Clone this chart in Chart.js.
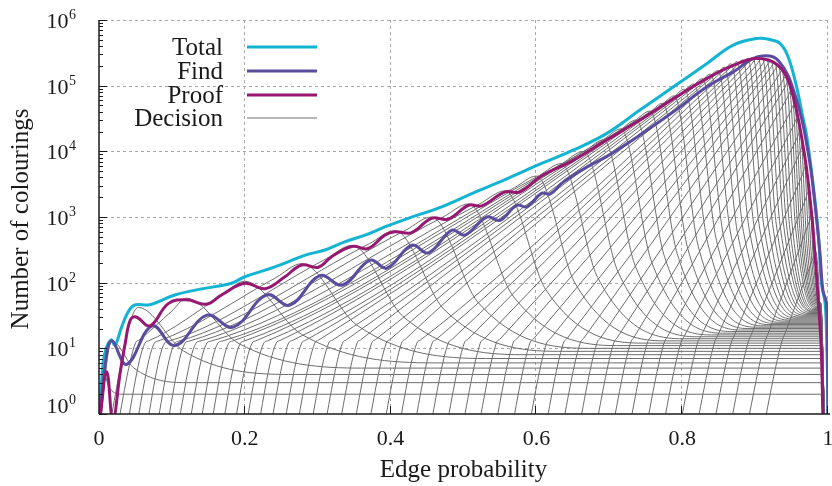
<!DOCTYPE html>
<html>
<head>
<meta charset="utf-8">
<script src="https://cdn.jsdelivr.net/npm/chart.js@4"></script>
<style>
  html, body { margin: 0; padding: 0; background: #fff; }
  #chart { display: block; }
</style>
</head>
<body>
<canvas id="chart" width="832" height="486"></canvas>
<script>
/* ============================================================
   DATA
   ============================================================ */

const xTickValues = [0, 0.2, 0.4, 0.6, 0.8, 1];
const xTickLabels = ["0", "0.2", "0.4", "0.6", "0.8", "1"];
const yTickValues = [1, 10, 100, 1000, 10000, 100000, 1000000];
const yTickExponents = ["0", "1", "2", "3", "4", "5", "6"];

const seriesNames = ["Total", "Find", "Proof", "Decision"];

const totalX = [0, 0.0037, 0.008, 0.0165, 0.022, 0.031, 0.040, 0.049, 0.067, 0.077, 0.104, 0.132, 0.159, 0.182, 0.200, 0.228, 0.255, 0.283, 0.310, 0.337, 0.365, 0.392, 0.424, 0.470, 0.516, 0.561, 0.607, 0.651, 0.696, 0.742, 0.788, 0.834, 0.870, 0.904, 0.920, 0.934, 0.945, 0.957, 0.965, 0.971, 0.980, 0.987, 0.991, 0.996, 0.998, 0.9995, 1.0];
const totalY = [0.6, 3.3, 8.5, 13.4, 11.2, 21, 36, 45.7, 45.7, 49, 65, 77, 87, 98, 123, 155, 199, 263, 314, 418, 530, 705, 955, 1430, 2400, 3880, 6530, 10500, 18600, 42500, 96000, 218000, 415000, 525000, 505000, 440000, 280000, 95000, 35000, 16600, 2900, 500, 98, 49, 15, 3, 0.5];

const findX = [0, 0.008, 0.0174, 0.038, 0.073, 0.104, 0.148, 0.184, 0.230, 0.262, 0.303, 0.334, 0.372, 0.395, 0.429, 0.452, 0.484, 0.502, 0.532, 0.550, 0.573, 0.587, 0.607, 0.619, 0.637, 0.674, 0.696, 0.742, 0.788, 0.834, 0.870, 0.904, 0.932, 0.957, 0.973, 0.982, 0.989, 0.993, 0.998, 0.9995, 1.0];
const findY = [0.6, 5, 13, 5.7, 22, 11, 32, 21, 65, 45.5, 128, 92, 220, 166, 372, 285, 630, 530, 1000, 890, 1510, 1430, 2290, 2250, 3430, 6160, 8300, 17700, 40000, 96000, 162000, 275000, 240000, 60000, 9300, 1620, 280, 77, 48, 8, 0.5];

const proofX = [0.001, 0.0106, 0.019, 0.029, 0.036, 0.043, 0.051, 0.070, 0.095, 0.120, 0.147, 0.168, 0.200, 0.228, 0.255, 0.278, 0.301, 0.319, 0.347, 0.369, 0.392, 0.406, 0.429, 0.456, 0.479, 0.507, 0.525, 0.557, 0.577, 0.607, 0.651, 0.696, 0.742, 0.788, 0.834, 0.870, 0.902, 0.930, 0.948, 0.967, 0.978, 0.982, 0.987, 0.991, 0.993];
const proofY = [0.8, 4.4, 0.8, 4.2, 12, 27, 30, 22, 48, 55, 47, 65, 98, 81, 123, 186, 172, 248, 355, 331, 530, 596, 580, 955, 930, 1510, 1480, 2410, 2400, 4200, 7360, 14800, 29900, 63500, 129000, 204000, 259000, 210000, 100000, 10000, 1000, 280, 48, 8.4, 0.8];

// Decision curves, one entry per number of colours k = 1..49
// start: where the curve leaves the bottom; knee/knee2: end of the steep rise;
// pre: just before the peak; drop: part-way down; flat: plateau reached
const decisionStartX = [-0.003, -0.002, 0.008, 0.02, 0.033, 0.046, 0.06, 0.074, 0.088, 0.103, 0.118, 0.133, 0.148, 0.164, 0.18, 0.196, 0.213, 0.23, 0.248, 0.266, 0.285, 0.304, 0.324, 0.344, 0.364, 0.385, 0.406, 0.427, 0.449, 0.471, 0.493, 0.515, 0.538, 0.561, 0.584, 0.607, 0.63, 0.653, 0.676, 0.699, 0.722, 0.745, 0.768, 0.791, 0.814, 0.837, 0.86, 0.883, 0.906];
const decisionKneeX = [null, null, null, 0.05, 0.063, 0.076, 0.09, 0.104, 0.118, 0.133, 0.148, 0.163, 0.178, 0.194, 0.21, 0.226, 0.243, 0.26, 0.278, 0.296, 0.315, 0.334, 0.354, 0.374, 0.394, 0.415, 0.436, 0.457, 0.479, 0.501, 0.523, 0.545, 0.568, 0.591, 0.614, 0.637, 0.66, 0.683, 0.706, 0.729, 0.752, 0.775, 0.798, 0.821, 0.844, 0.867, 0.89, 0.913, 0.936];
const decisionKneeY = 12;
const decisionKnee2X = [null, null, null, 0.055, 0.068, 0.081, 0.095, 0.109, 0.123, 0.138, 0.153, 0.168, 0.183, 0.199, 0.215, 0.231, 0.248, 0.265, 0.283, 0.301, 0.32, 0.339, 0.359, 0.379, 0.399, 0.42, 0.441, 0.462, 0.484, 0.506, 0.528, 0.55, 0.573, 0.596, 0.619, 0.642, 0.665, 0.688, 0.711, 0.734, 0.757, 0.78, 0.803, 0.826, 0.849, 0.872, 0.895, 0.918, 0.941];
const decisionKnee2Y = [null, null, null, 13.4, 13, 12.9, 12.8, 12.8, 12.8, 12.8, 12.8, 12.8, 12.9, 12.9, 13, 13, 13.1, 13.1, 13.2, 13.3, 13.3, 13.4, 13.5, 13.5, 13.6, 13.7, 13.4, 13.5, 13.6, 13.7, 13.7, 13.8, 13.9, 13.9, 14, 14.1, 14.3, 14.4, 14.6, 14.8, 15, 15.2, 15.4, 15.6, 15.9, 16.2, 16.4, 16.9, 16.9];
const decisionPreX = [null, null, null, 0.10, 0.165, 0.243, 0.312, 0.371, 0.421, 0.472, 0.522, 0.57, 0.604, 0.635, 0.67, 0.694, 0.715, 0.734, 0.758, 0.774, 0.788, 0.801, 0.813, 0.824, 0.834, 0.849, 0.858, 0.866, 0.874, 0.881, 0.888, 0.895, 0.901, 0.907, 0.913, 0.921, 0.926, 0.931, 0.936, 0.94, 0.944, 0.948, 0.952, 0.956, 0.96, 0.964, 0.968, 0.974, 0.979];
const decisionPreY = [null, null, null, 37, 60, 120, 232, 393, 633, 1000, 1580, 2800, 4300, 6500, 10800, 15700, 21200, 28600, 41800, 53700, 66800, 79800, 95300, 111000, 124000, 158000, 176000, 188000, 197000, 205000, 210000, 212000, 201000, 190000, 178000, 185000, 166000, 136000, 109000, 90800, 65000, 39300, 23800, 14600, 8800, 4180, 1710, 832, 228];
const decisionPeakX = [0.006, 0.0175, 0.054, 0.12, 0.2, 0.278, 0.347, 0.406, 0.456, 0.507, 0.557, 0.6, 0.634, 0.665, 0.692, 0.716, 0.737, 0.756, 0.773, 0.789, 0.803, 0.816, 0.828, 0.839, 0.849, 0.858, 0.867, 0.875, 0.883, 0.89, 0.897, 0.904, 0.91, 0.916, 0.922, 0.927, 0.932, 0.937, 0.942, 0.946, 0.95, 0.954, 0.958, 0.962, 0.966, 0.97, 0.974, 0.978, 0.983];
const decisionPeakY = [4.5, 13, 42, 58, 105, 195, 370, 620, 1000, 1580, 2500, 4200, 6500, 10000, 15000, 22000, 30000, 41000, 54000, 70000, 88000, 106000, 128000, 150000, 170000, 192000, 216000, 233000, 246000, 258000, 268000, 272000, 262000, 250000, 238000, 226000, 205000, 170000, 138000, 117000, 85000, 52000, 32000, 20000, 12400, 6000, 2500, 1100, 300];
const decisionDropX = [0.0132, 0.048, 0.116, 0.192, 0.278, 0.354, 0.417, 0.473, 0.52, 0.568, 0.613, 0.653, 0.684, 0.712, 0.736, 0.758, 0.776, 0.793, 0.808, 0.822, 0.835, 0.847, 0.857, 0.867, 0.876, 0.884, 0.892, 0.899, 0.906, 0.912, 0.918, 0.924, 0.929, 0.934, 0.939, 0.943, 0.947, 0.951, 0.9555, 0.9586, 0.9617, 0.9648, 0.9679, 0.971, 0.9741, 0.9772, 0.9803, 0.9834, 0.9875];
const decisionDropY = [2.65, 5.0, 9.1, 11.8, 16.3, 22.4, 30.6, 39.5, 50, 62.5, 77.8, 98, 120, 146, 175, 208, 242, 279, 318, 359, 401, 440, 491, 525, 562, 601, 641, 675, 703, 730, 755, 776, 779, 782, 782, 782, 776, 733, 692, 664, 603, 515, 440, 380, 327, 256, 191, 146, 94];
const decisionFlatX = [0.03, 0.12, 0.26, 0.36, 0.46, 0.53, 0.58, 0.63, 0.67, 0.71, 0.745, 0.775, 0.8, 0.82, 0.84, 0.855, 0.868, 0.88, 0.89, 0.9, 0.91, 0.918, 0.926, 0.933, 0.94, 0.946, 0.951, 0.956, 0.96, 0.964, 0.968, 0.971, 0.974, 0.977, 0.979, 0.978, 0.979, 0.98, 0.981, 0.982, 0.983, 0.984, 0.985, 0.986, 0.9865, 0.987, 0.9875, 0.988, 0.9885];
const decisionPlateau = [2, 3, 4, 5, 6, 7, 8, 9, 10, 11, 12, 13, 14, 15, 16, 17, 18, 19, 20, 21, 22, 23, 24, 25, 26, 27, 28, 29, 30, 31, 32, 33, 34, 35, 36, 37, 38, 39, 40, 41, 42, 43, 44, 45, 46, 47, 48, 49, 50];
const decisionEndX = [0.99, 0.996];

/* ============================================================
   STYLE
   ============================================================ */

const COLOR_TOTAL = "#12b4d2";
const COLOR_FIND = "#5b4c9e";
const COLOR_PROOF = "#961870";
const COLOR_DECISION = "#6c6c6c";
const FONT = "'Liberation Serif', 'Times New Roman', serif";

/* ============================================================
   DATASETS
   ============================================================ */

function toPoints(xs, ys) {
    return xs.map((x, i) => ({ x, y: ys[i] }));
}

function decisionPoints(i) {
    const pts = [{ x: decisionStartX[i], y: 0.3 }];
    if (decisionKneeX[i] !== null) {
        pts.push({ x: decisionKneeX[i], y: decisionKneeY });
        pts.push({ x: decisionKnee2X[i], y: decisionKnee2Y[i] });
        pts.push({ x: decisionPreX[i], y: decisionPreY[i] });
    }
    pts.push({ x: decisionPeakX[i], y: decisionPeakY[i] });
    pts.push({ x: decisionDropX[i], y: decisionDropY[i] });
    pts.push({ x: decisionFlatX[i], y: decisionPlateau[i] });
    pts.push({ x: decisionEndX[0], y: decisionPlateau[i] });
    pts.push({ x: decisionEndX[1], y: 0.3 });
    return pts;
}

const mainLine = {
    pointRadius: 0,
    borderWidth: 3,
    tension: 0.4,
    fill: false
};

// first dataset is drawn last (on top)
const datasets = [
    { ...mainLine, label: "Proof", data: toPoints(proofX, proofY), borderColor: COLOR_PROOF },
    { ...mainLine, label: "Find", data: toPoints(findX, findY), borderColor: COLOR_FIND },
    { ...mainLine, label: "Total", data: toPoints(totalX, totalY), borderColor: COLOR_TOTAL }
];

decisionPeakX.forEach((_, i) => {
    datasets.push({
        label: "Decision",
        data: decisionPoints(i),
        borderColor: COLOR_DECISION,
        borderWidth: 1,
        pointRadius: 0,
        cubicInterpolationMode: "monotone",
        fill: false
    });
});

/* ============================================================
   AXES, GRID, LEGEND (drawn by hand, gnuplot style)
   ============================================================ */

function strokeLine(ctx, x1, y1, x2, y2) {
    ctx.beginPath();
    ctx.moveTo(x1, y1);
    ctx.lineTo(x2, y2);
    ctx.stroke();
}

const frame = {
    id: "frame",
    beforeDatasetsDraw(chart) {
        const { ctx, chartArea: a, scales: { x, y } } = chart;
        ctx.save();
        ctx.strokeStyle = "#a8a8a8";
        ctx.lineWidth = 1;
        ctx.setLineDash([3, 3]);
        xTickValues.forEach(v => {
            if (v === 0) return;
            const px = Math.round(x.getPixelForValue(v)) - 0.5;
            strokeLine(ctx, px, a.top, px, a.bottom);
        });
        yTickValues.forEach(v => {
            if (v === 1) return;
            const py = Math.round(y.getPixelForValue(v)) + 0.5;
            strokeLine(ctx, a.left, py, a.right, py);
        });
        ctx.restore();
    },
    afterDatasetsDraw(chart) {
        const { ctx, chartArea: a, scales: { x, y } } = chart;
        ctx.save();
        ctx.strokeStyle = "#1a1a1a";
        ctx.fillStyle = "#1a1a1a";
        ctx.lineWidth = 1.5;

        // axis lines
        strokeLine(ctx, a.left, a.top, a.left, a.bottom);
        strokeLine(ctx, a.left, a.bottom, a.right + 2, a.bottom);

        // y ticks (major + minor), pointing inward
        ctx.lineWidth = 1;
        for (let d = 0; d < 6; d++) {
            for (let m = 2; m <= 9; m++) {
                const py = Math.round(y.getPixelForValue(m * Math.pow(10, d))) + 0.5;
                strokeLine(ctx, a.left, py, a.left + 4, py);
            }
        }
        yTickValues.forEach(v => {
            const py = Math.round(y.getPixelForValue(v)) + 0.5;
            strokeLine(ctx, a.left, py, a.left + 8, py);
        });
        xTickValues.forEach(v => {
            if (v === 0) return;
            const px = Math.round(x.getPixelForValue(v)) - 0.5;
            strokeLine(ctx, px, a.bottom, px, a.bottom - 8);
        });

        // y tick labels: 10 with superscript exponent
        ctx.textAlign = "right";
        ctx.textBaseline = "alphabetic";
        yTickValues.forEach((v, i) => {
            const py = y.getPixelForValue(v);
            const base = v === 1 ? py - 1 : py + 8;
            ctx.font = "14px " + FONT;
            const ew = ctx.measureText(yTickExponents[i]).width;
            ctx.fillText(yTickExponents[i], 76, base - 9);
            ctx.font = "22px " + FONT;
            ctx.fillText("10", 76 - ew - 0.5, base);
        });

        // x tick labels
        ctx.textAlign = "center";
        ctx.font = "22px " + FONT;
        xTickValues.forEach((v, i) => {
            ctx.fillText(xTickLabels[i], x.getPixelForValue(v), 445);
        });

        // axis titles
        ctx.font = "25px " + FONT;
        ctx.fillText("Edge probability", (a.left + a.right) / 2, 477);
        ctx.save();
        ctx.translate(28, (a.top + a.bottom) / 2 + 2);
        ctx.rotate(-Math.PI / 2);
        ctx.fillText("Number of colourings", 0, 0);
        ctx.restore();

        // legend
        const legendColors = [COLOR_TOTAL, COLOR_FIND, COLOR_PROOF, COLOR_DECISION];
        const legendWidths = [3, 3, 3, 1];
        const rowY = [47, 71, 95, 118];
        ctx.textAlign = "right";
        ctx.font = "25px " + FONT;
        seriesNames.forEach((name, i) => {
            ctx.fillStyle = "#1a1a1a";
            ctx.fillText(name, 223, rowY[i] + 8);
            ctx.strokeStyle = legendColors[i];
            ctx.lineWidth = legendWidths[i];
            strokeLine(ctx, 247, rowY[i], 317, rowY[i]);
        });
        ctx.restore();
    }
};

/* ============================================================
   CHART
   ============================================================ */

new Chart(document.getElementById("chart").getContext("2d"), {
    type: "line",
    data: { datasets },
    options: {
        responsive: false,
        animation: false,
        devicePixelRatio: 1,
        layout: { padding: { left: 99, right: 4, top: 20, bottom: 72 } },
        scales: {
            x: { type: "linear", min: 0, max: 1, display: false },
            y: { type: "logarithmic", min: 1, max: 1000000, display: false }
        },
        plugins: {
            legend: { display: false },
            tooltip: { enabled: false }
        }
    },
    plugins: [frame]
});
</script>
</body>
</html>
